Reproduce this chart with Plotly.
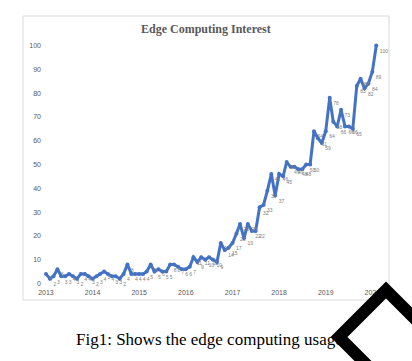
import pandas as pd
import plotly.graph_objects as go

# ---- data (monthly interest, Jan 2013 - Feb 2020) ----
start_month = "2013-01-01"
interest = [
    4, 2, 3, 6, 3, 3, 4, 3, 2, 4, 4, 3,        # 2013
    2, 3, 4, 5, 4, 3, 3, 2, 4, 8, 4, 4,        # 2014
    4, 4, 5, 8, 5, 6, 5, 5, 8, 8, 7, 6,        # 2015
    6, 7, 11, 9, 11, 10, 11, 10, 9, 17, 14, 15,  # 2016
    17, 21, 25, 19, 25, 22, 22, 32, 33, 39, 46, 37,  # 2017
    46, 45, 51, 49, 49, 48, 48, 50, 50, 64, 61, 59,  # 2018
    64, 78, 68, 66, 73, 66, 66, 65, 83, 86, 82, 84,  # 2019
    89, 100,                                    # 2020
]
year_ticks = ["2013", "2014", "2015", "2016", "2017", "2018", "2019", "2020"]
y_ticks = [0, 10, 20, 30, 40, 50, 60, 70, 80, 90, 100]
title_text = "Edge Computing Interest"
caption_text = "Fig1: Shows the edge computing usage"

dates = pd.date_range(start_month, periods=len(interest), freq="MS")

W, H = 412, 361
ML, MR, MT, MB = 42, 32, 36, 74
PW, PH = W - ML - MR, H - MT - MB


def px(x):
    return (x - ML) / PW


def py(y):
    return (H - MB - y) / PH


fig = go.Figure()
fig.add_trace(go.Scatter(
    x=dates, y=interest,
    mode="lines+markers+text",
    text=[str(v) for v in interest],
    textposition="bottom right",
    textfont=dict(size=5, color="#808080", family="Liberation Sans"),
    line=dict(color="#4472C4", width=3),
    marker=dict(color="#4472C4", size=4),
    cliponaxis=False,
    showlegend=False,
))

fig.update_layout(
    width=W, height=H,
    margin=dict(l=ML, r=MR, t=MT, b=MB, autoexpand=False),
    paper_bgcolor="white", plot_bgcolor="white",
    xaxis=dict(
        range=["2012-12-01", "2020-03-01"],
        tickvals=[f"{y}-01-01" for y in year_ticks],
        ticktext=year_ticks,
        showgrid=False, zeroline=False, showline=False,
        tickfont=dict(size=7, color="#595959", family="Liberation Sans"),
        ticks="",
    ),
    yaxis=dict(
        range=[-1.5, 104],
        tickvals=y_ticks,
        showgrid=False, zeroline=False, showline=False,
        tickfont=dict(size=7, color="#595959", family="Liberation Sans"),
        ticks="",
    ),
    shapes=[
        # chart area border
        dict(type="rect", xref="paper", yref="paper",
             x0=px(23), x1=px(389), y0=py(300), y1=py(16),
             line=dict(color="#d9d9d9", width=1), fillcolor="rgba(0,0,0,0)",
             layer="below"),
        # black diamond mark at the bottom right
        dict(type="path", xref="paper", yref="paper",
             path=(f"M {px(386)},{py(290)} L {px(339)},{py(337)} "
                   f"L {px(399)},{py(397)} L {px(446)},{py(350)} Z"),
             line=dict(color="black", width=12), fillcolor="white",
             layer="above"),
    ],
    annotations=[
        dict(text=f"<b>{title_text}</b>", xref="paper", yref="paper",
             x=px(206), y=py(29), showarrow=False,
             xanchor="center", yanchor="middle",
             font=dict(size=12, color="#595959", family="Liberation Serif")),
        dict(text=caption_text, xref="paper", yref="paper",
             x=px(74), y=py(339), showarrow=False,
             xanchor="left", yanchor="middle",
             font=dict(size=17, color="black", family="Liberation Serif")),
    ],
)

fig.write_html(
    "out.html",
    config={"displayModeBar": False},
    post_script="document.body.style.margin='0';document.body.style.overflow='hidden';",
)
